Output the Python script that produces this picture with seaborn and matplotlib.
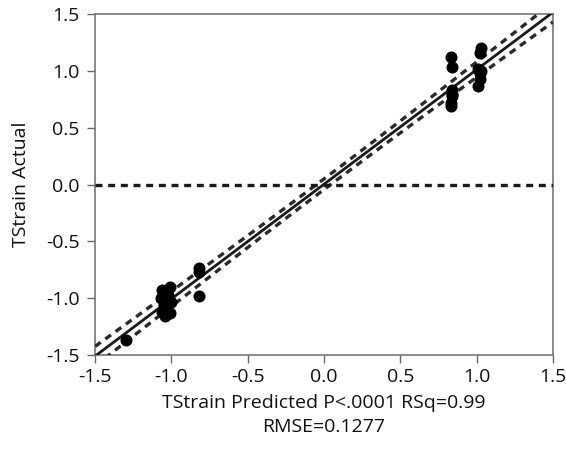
import numpy as np
import pandas as pd
import matplotlib
matplotlib.use("Agg")
import matplotlib.pyplot as plt
import seaborn as sns

# Leverage plot: predicted vs actual TStrain
predicted = [-1.30, -1.06, -1.01, -1.02, -1.07, -1.05, -1.06, -1.01, -1.04, -1.00,
             -0.82, -0.82, -0.82,
             0.83, 0.84, 0.84, 0.84, 0.83, 0.83, 0.84,
             1.03, 1.02, 1.01, 1.02, 1.02, 1.01, 1.03]
actual = [-1.37, -0.93, -0.90, -0.97, -1.00, -1.06, -1.12, -1.13, -1.16, -1.03,
          -0.73, -0.77, -0.98,
          1.12, 1.03, 0.83, 0.78, 0.72, 0.69, 0.80,
          1.20, 1.16, 1.02, 0.98, 0.93, 0.87, 1.00]
ticks = [-1.5, -1.0, -0.5, 0.0, 0.5, 1.0, 1.5]
tick_labels = ["-1.5", "-1.0", "-0.5", "0.0", "0.5", "1.0", "1.5"]
xlabel = "TStrain Predicted P<.0001 RSq=0.99\nRMSE=0.1277"
ylabel = "TStrain Actual"

df = pd.DataFrame({"pred": predicted, "act": actual})

sns.set_style("white")
plt.rcParams["font.family"] = ["Open Sans", "DejaVu Sans"]

fig = plt.figure(figsize=(5.66, 4.5), dpi=100)
ax = fig.add_axes([0.168, 0.211, 0.809, 0.758])

# least-squares fit and 95% confidence curves for the mean
x = df["pred"].to_numpy()
y = df["act"].to_numpy()
n = len(x)
slope, intercept = np.polyfit(x, y, 1)
resid = y - (slope * x + intercept)
s = np.sqrt(np.sum(resid ** 2) / (n - 2))
xm = x.mean()
sxx = np.sum((x - xm) ** 2)
t_crit = 2.06
xs = np.linspace(-1.5, 1.5, 200)
fit = slope * xs + intercept
half = t_crit * s * np.sqrt(1.0 / n + (xs - xm) ** 2 / sxx)

dash = (0, (2.1, 1.7))
ax.plot(xs, fit, color="#1a1a1a", lw=2.0, zorder=3)
ax.plot(xs, fit + half, color="#2a2a2a", lw=2.4, ls=dash, zorder=3)
ax.plot(xs, fit - half, color="#2a2a2a", lw=2.4, ls=dash, zorder=3)
ax.axhline(y.mean(), color="#1a1a1a", lw=2.4, ls=dash, zorder=3)

sns.scatterplot(data=df, x="pred", y="act", ax=ax, color="black", s=75,
                edgecolor="black", linewidth=0, zorder=4, legend=False)

ax.set_xlim(-1.5, 1.5)
ax.set_ylim(-1.5, 1.5)
ax.set_xticks(ticks)
ax.set_xticklabels(tick_labels)
ax.set_yticks(ticks)
ax.set_yticklabels(tick_labels)
ax.tick_params(axis="both", which="major", direction="out", length=6, width=1,
               color="#666666", labelsize=14, labelcolor="#111111")
ax.tick_params(axis="x", pad=3)
ax.tick_params(axis="y", pad=5)
ax.xaxis.set_ticks_position("bottom")
ax.yaxis.set_ticks_position("left")
for sp in ax.spines.values():
    sp.set_color("#777777")
    sp.set_linewidth(1.2)

ax.set_xlabel(xlabel, fontsize=14, color="#111111", labelpad=6, linespacing=1.45)
ax.set_ylabel(ylabel, fontsize=14, color="#111111", labelpad=12)

fig.savefig("out.png", dpi=100)
